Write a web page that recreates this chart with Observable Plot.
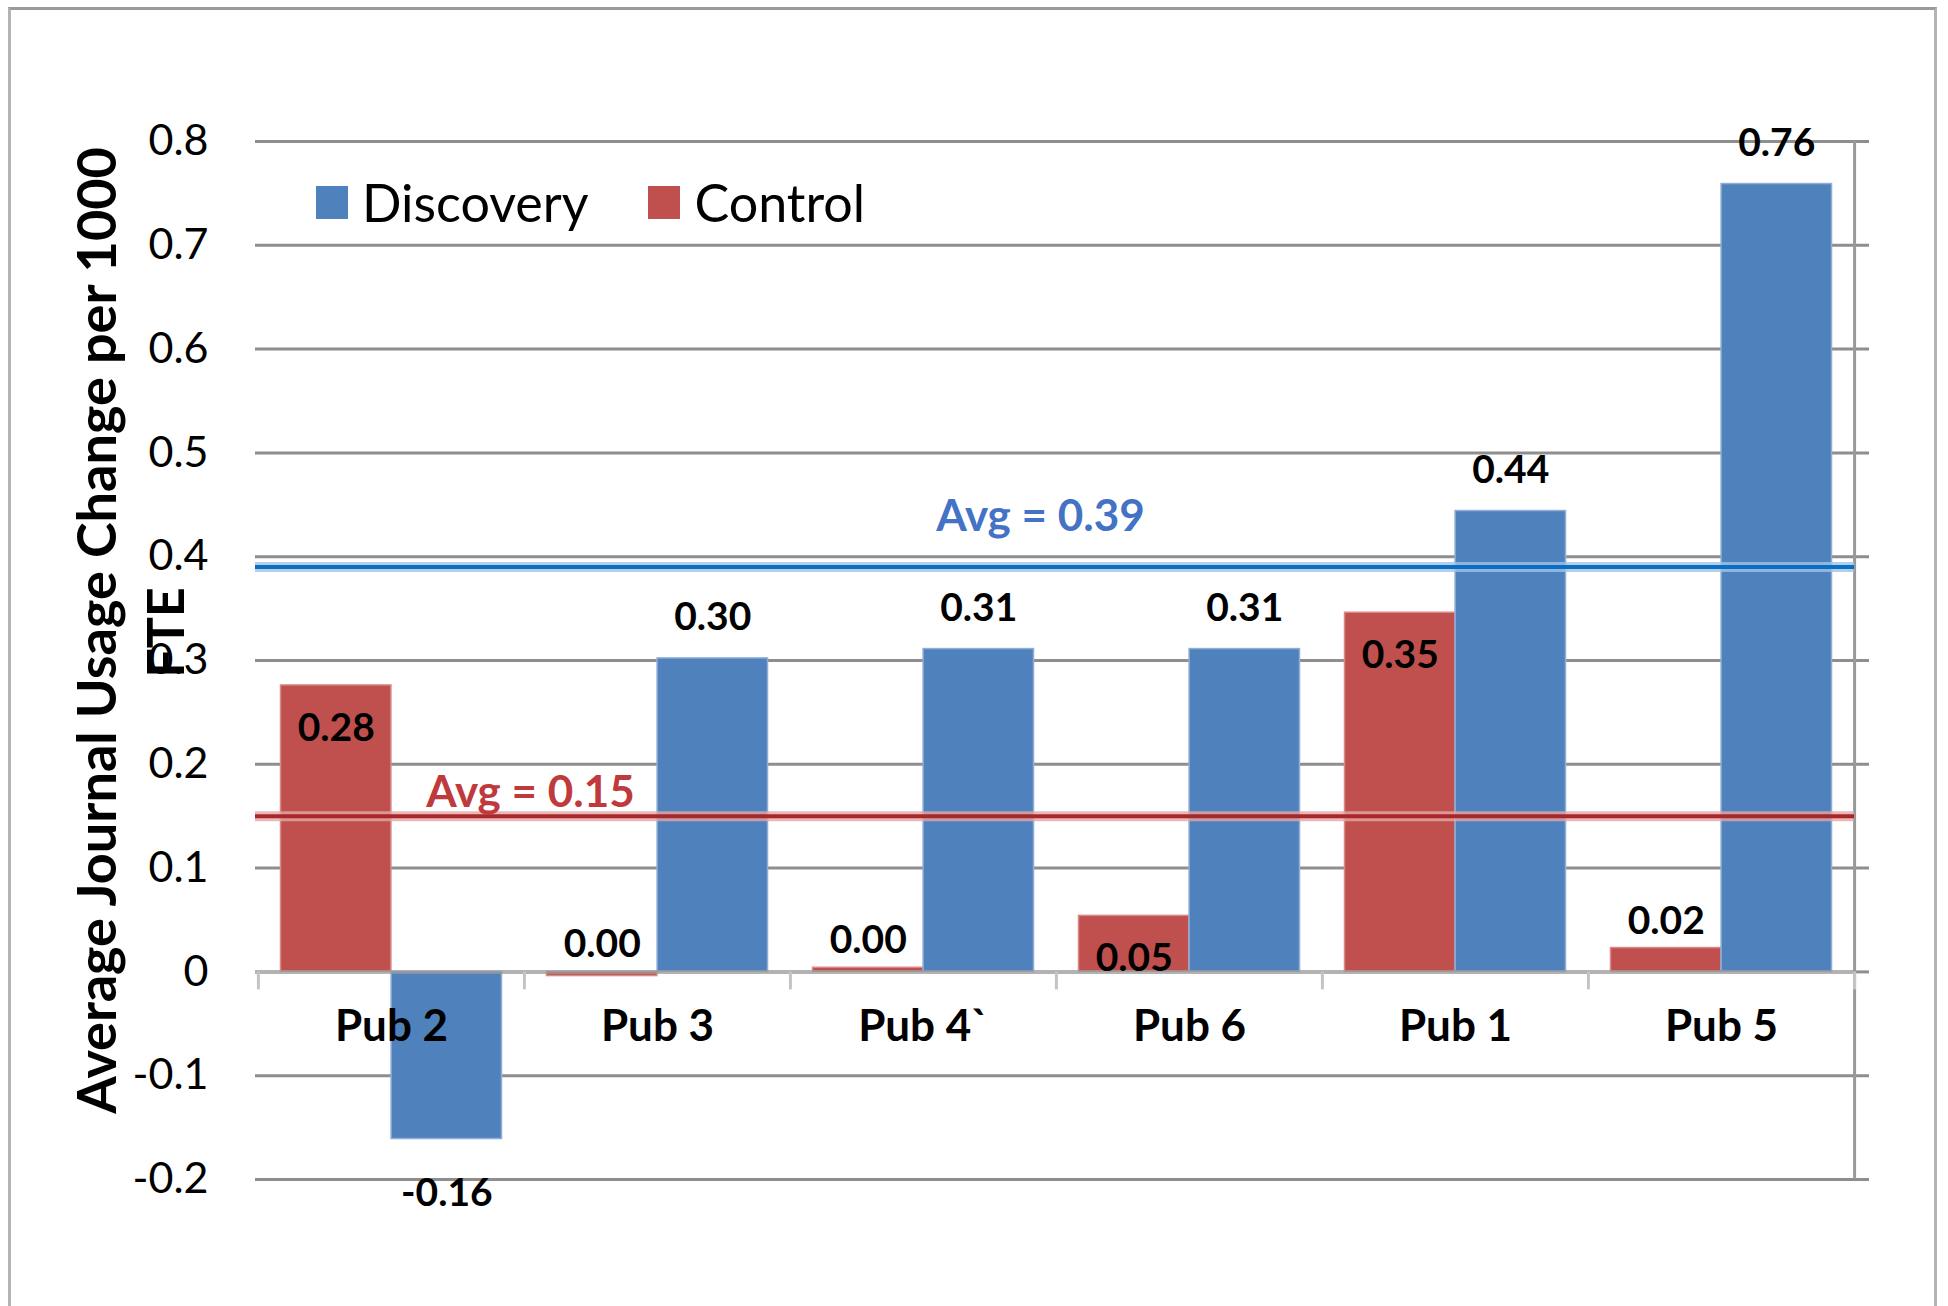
<!DOCTYPE html>
<html>
<head>
<meta charset="utf-8">
<script src="https://cdn.jsdelivr.net/npm/d3@7"></script>
<script src="https://cdn.jsdelivr.net/npm/@observablehq/plot@0.6"></script>
<style>
  html, body { margin: 0; padding: 0; background: #fff; }
  #wrap { position: relative; width: 1948px; height: 1306px; overflow: hidden; }
  #border { position: absolute; left: 8px; top: 7px; width: 1929px; height: 1320px;
            border: 3px solid #b4b4b4; border-top-color: #9a9a9a; box-sizing: border-box; }
  #legend { position: absolute; left: 316px; top: 176px; display: flex; align-items: center;
            font-family: Lato, "Open Sans", sans-serif; font-size: 52px; line-height: 52px; color: #000; }
  .sw { display: inline-block; width: 32px; height: 33px; margin-right: 14px; }
</style>
</head>
<body>
<div id="wrap">
  <div id="chart"></div>
  <div id="border"></div>
  <div id="legend"></div>
</div>
<script>
// ---- Data ----
const categories = ["Pub 2", "Pub 3", "Pub 4`", "Pub 6", "Pub 1", "Pub 5"];
const controlValues   = [0.276, -0.004, 0.004, 0.054, 0.346, 0.023];
const discoveryValues = [-0.161, 0.302, 0.311, 0.311, 0.444, 0.759];
const seriesNames = ["Discovery", "Control"];
const seriesColors = ["#4F81BD", "#C0504D"];
const avgDiscovery = 0.39;
const avgControl = 0.15;
const yTicks = [-0.2, -0.1, 0, 0.1, 0.2, 0.3, 0.4, 0.5, 0.6, 0.7, 0.8];
const yTitle = ["Average Journal Usage Change per 1000", "FTE"];

// ---- Layout ----
const W = 1948, H = 1306;
const mL = 257, mR = 94, mT = 141, mB = 127;
const bw = (W - mL - mR) / categories.length;
const pad = 22.5;
const barW = (bw - 2 * pad) / 2;

const fmt = d3.formatLocale({decimal: ".", thousands: ",", grouping: [3], currency: ["", ""], minus: "-"}).format(".2f");
const tickFmt = d => d === 0 ? "0" : (d < 0 ? "-" : "") + Math.abs(d).toFixed(1);

const control = categories.map((pub, i) => ({pub, value: controlValues[i]}));
const discovery = categories.map((pub, i) => ({pub, value: discoveryValues[i]}));

const FONT = "Lato, 'Open Sans', sans-serif";
const last = categories[categories.length - 1];

const plot = Plot.plot({
  width: W, height: H,
  marginLeft: mL, marginRight: mR, marginTop: mT, marginBottom: mB,
  style: {fontFamily: FONT, background: "transparent", color: "#000", overflow: "visible"},
  x: {type: "band", domain: categories, padding: 0, axis: null},
  y: {domain: [-0.2, 0.8], axis: null, label: null},
  marks: [
    // gridlines (with outward tick on right)
    Plot.ruleY(yTicks.filter(d => d !== 0), {stroke: "#8e8e8e", strokeWidth: 3, insetLeft: -2, insetRight: -15}),
    Plot.ruleY([0], {stroke: "#8e8e8e", strokeWidth: 3, insetLeft: W - mL - mR, insetRight: -15}),
    // right vertical axis line
    Plot.ruleX([last], {x: d => d, dx: bw / 2, y1: -0.2, y2: 0.8, stroke: "#999", strokeWidth: 3}),
    // bars
    Plot.barY(control, {x: "pub", y: "value", fill: seriesColors[1], stroke: "#D88A88", strokeWidth: 1.5,
      insetLeft: pad, insetRight: pad + barW}),
    Plot.barY(discovery, {x: "pub", y: "value", fill: seriesColors[0], stroke: "#90ADD6", strokeWidth: 1.5,
      insetLeft: pad + barW, insetRight: pad}),
    // zero axis line and category boundary ticks
    Plot.ruleY([0], {stroke: "#9a9a9a", strokeOpacity: 0.75, strokeWidth: 4, insetLeft: -2}),
    Plot.ruleX(categories, {x: d => d, dx: -bw / 2, y1: 0, y2: 0, insetBottom: -18, stroke: "#c4c4c4", strokeWidth: 3}),
    Plot.ruleX([last], {x: d => d, dx: bw / 2, y1: 0, y2: 0, insetBottom: -18, stroke: "#c4c4c4", strokeWidth: 3}),
    // average lines (halo + core)
    Plot.ruleY([avgDiscovery], {stroke: "#9DC3E6", strokeWidth: 10, strokeOpacity: 0.8, insetLeft: -2}),
    Plot.ruleY([avgDiscovery], {stroke: "#0A6FC2", strokeWidth: 4, insetLeft: -2}),
    Plot.ruleY([avgControl], {stroke: "#E3A5A5", strokeWidth: 10, strokeOpacity: 0.8, insetLeft: -2}),
    Plot.ruleY([avgControl], {stroke: "#A8282A", strokeWidth: 4, insetLeft: -2}),
    // average labels
    Plot.text([avgDiscovery], {y: d => d, text: d => "Avg = " + d.toFixed(2), frameAnchor: "left",
      dx: 1040 - mL, dy: -50, fill: "#4472C4", fontSize: 44, fontWeight: "bold", textAnchor: "middle"}),
    Plot.text([avgControl], {y: d => d, text: d => "Avg = " + d.toFixed(2), frameAnchor: "left",
      dx: 530 - mL, dy: -23, fill: "#BE3A3C", fontSize: 44, fontWeight: "bold", textAnchor: "middle"}),
    // data labels: discovery
    Plot.text(discovery.filter(d => d.value >= 0), {x: "pub", y: "value", text: d => fmt(d.value),
      dx: barW / 2, dy: -41, fontSize: 39, fontWeight: "bold", fill: "#000"}),
    Plot.text(discovery.filter(d => d.value < 0), {x: "pub", y: "value", text: d => fmt(d.value),
      dx: barW / 2, dy: 54, fontSize: 39, fontWeight: "bold", fill: "#000"}),
    // data labels: control
    Plot.text(control.filter(d => Math.abs(d.value) >= 0.04), {x: "pub", y: "value", text: d => fmt(d.value),
      dx: -barW / 2, dy: 43, fontSize: 39, fontWeight: "bold", fill: "#000"}),
    Plot.text(control.filter(d => Math.abs(d.value) < 0.04), {x: "pub", y: d => Math.max(d.value, 0), text: d => fmt(d.value),
      dx: -barW / 2, dy: -27, fontSize: 39, fontWeight: "bold", fill: "#000"}),
    // category labels at the zero line
    Plot.text(categories, {x: d => d, y: () => 0, text: d => d, dy: 55, fontSize: 44, fontWeight: "bold", fill: "#000"}),
    // y axis tick labels
    Plot.axisY({ticks: yTicks, tickSize: 0, tickPadding: 49, tickFormat: tickFmt, fontSize: 43, fill: "#000", label: null}),
    // y axis title (two lines)
    Plot.text([yTitle[0]], {frameAnchor: "left", rotate: -90, dx: 98 - mL, dy: 630 - (mT + H - mB) / 2,
      fontSize: 54, fontWeight: "bold", fill: "#000", textAnchor: "middle"}),
    Plot.text([yTitle[1]], {frameAnchor: "left", rotate: -90, dx: 167 - mL, dy: 632 - (mT + H - mB) / 2,
      fontSize: 52, fontWeight: "bold", fill: "#000", textAnchor: "middle"})
  ]
});
document.getElementById("chart").appendChild(plot);

// legend (Discovery, Control)
const legend = document.getElementById("legend");
seriesNames.forEach((name, i) => {
  const item = document.createElement("span");
  item.style.display = "inline-flex";
  item.style.alignItems = "center";
  if (i > 0) item.style.marginLeft = "60px";
  const sw = document.createElement("span");
  sw.className = "sw";
  sw.style.background = seriesColors[i];
  const t = document.createElement("span");
  t.textContent = name;
  item.appendChild(sw);
  item.appendChild(t);
  legend.appendChild(item);
});
</script>
</body>
</html>
